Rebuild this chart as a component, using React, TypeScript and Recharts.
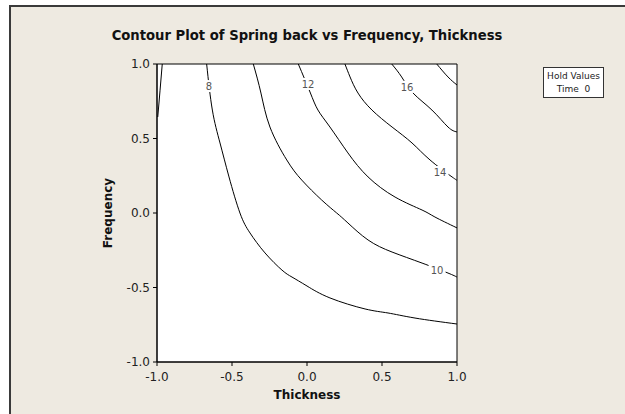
import { ComposedChart, XAxis, YAxis, Line, Scatter, ReferenceArea, CartesianGrid } from 'recharts';

const axisTicks = [-1, -0.5, 0, 0.5, 1];

// contour lines (Thickness = x, Frequency = y)
const level6 = [
  { x: -0.995, y: 0.644 },
  { x: -0.98, y: 0.82 },
  { x: -0.965, y: 1.0 },
];
const level8 = [
  { x: -0.669, y: 1.0 },
  { x: -0.631, y: 0.691 },
  { x: -0.58, y: 0.47 },
  { x: -0.52, y: 0.242 },
  { x: -0.447, y: 0.0 },
  { x: -0.38, y: -0.134 },
  { x: -0.28, y: -0.268 },
  { x: -0.167, y: -0.383 },
  { x: -0.1, y: -0.43 },
  { x: 0.0, y: -0.49 },
  { x: 0.153, y: -0.57 },
  { x: 0.387, y: -0.644 },
  { x: 0.54, y: -0.671 },
  { x: 0.72, y: -0.705 },
  { x: 1.0, y: -0.745 },
];
const level10 = [
  { x: -0.358, y: 1.0 },
  { x: -0.307, y: 0.805 },
  { x: -0.247, y: 0.577 },
  { x: -0.135, y: 0.356 },
  { x: -0.035, y: 0.221 },
  { x: 0.098, y: 0.087 },
  { x: 0.198, y: 0.0 },
  { x: 0.273, y: -0.067 },
  { x: 0.407, y: -0.181 },
  { x: 0.567, y: -0.262 },
  { x: 0.767, y: -0.336 },
  { x: 0.94, y: -0.403 },
  { x: 1.0, y: -0.43 },
];
const level12 = [
  { x: -0.058, y: 1.0 },
  { x: 0.02, y: 0.812 },
  { x: 0.073, y: 0.691 },
  { x: 0.153, y: 0.577 },
  { x: 0.273, y: 0.403 },
  { x: 0.407, y: 0.242 },
  { x: 0.587, y: 0.107 },
  { x: 0.767, y: 0.02 },
  { x: 0.853, y: -0.027 },
  { x: 1.0, y: -0.1 },
];
const level14 = [
  { x: 0.253, y: 1.0 },
  { x: 0.287, y: 0.913 },
  { x: 0.34, y: 0.805 },
  { x: 0.433, y: 0.691 },
  { x: 0.567, y: 0.577 },
  { x: 0.7, y: 0.47 },
  { x: 0.82, y: 0.356 },
  { x: 0.967, y: 0.242 },
  { x: 1.0, y: 0.221 },
];
const level16 = [
  { x: 0.565, y: 1.0 },
  { x: 0.631, y: 0.913 },
  { x: 0.707, y: 0.805 },
  { x: 0.833, y: 0.691 },
  { x: 0.94, y: 0.577 },
  { x: 1.0, y: 0.544 },
];
const level18 = [
  { x: 0.865, y: 1.0 },
  { x: 0.94, y: 0.913 },
  { x: 1.0, y: 0.859 },
];

const contourLabels = [
  { x: -0.653, y: 0.852, text: '8' },
  { x: 0.007, y: 0.866, text: '12' },
  { x: 0.667, y: 0.846, text: '16' },
  { x: 0.887, y: 0.275, text: '14' },
  { x: 0.867, y: -0.383, text: '10' },
];

const contours = [level6, level8, level10, level12, level14, level16, level18];

const FONT = '"DejaVu Sans", sans-serif';

function LevelLabel(props: any) {
  const { cx, cy, payload } = props;
  const w = payload.text.length * 6.5 + 4;
  return (
    <g>
      <rect x={cx - w / 2} y={cy - 6} width={w} height={12} fill="#fff" />
      <text
        x={cx}
        y={cy}
        dy="0.36em"
        textAnchor="middle"
        fontSize={10}
        fontFamily={FONT}
        fill="#555"
      >
        {payload.text}
      </text>
    </g>
  );
}

function FreqLabel({ viewBox }: any) {
  const cx = viewBox.x + 11;
  const cy = viewBox.y + viewBox.height / 2;
  return (
    <text
      x={cx}
      y={cy}
      transform={`rotate(-90, ${cx}, ${cy})`}
      textAnchor="middle"
      dominantBaseline="central"
      fontSize={12}
      fontWeight="bold"
      fontFamily={FONT}
      fill="#111"
    >
      Frequency
    </text>
  );
}

function ThickLabel({ viewBox }: any) {
  return (
    <text
      x={viewBox.x + viewBox.width / 2}
      y={viewBox.y + 37}
      textAnchor="middle"
      fontSize={12}
      fontWeight="bold"
      fontFamily={FONT}
      fill="#111"
    >
      Thickness
    </text>
  );
}

export default function App() {
  const tickStyle = { fill: '#222', fontSize: 12, fontFamily: FONT };
  return (
    <div style={{ position: 'absolute', left: 0, top: 0, width: 625, height: 414, background: '#fff', overflow: 'hidden' }}>
      <div
        style={{
          position: 'absolute',
          left: 9,
          top: 5,
          width: 616,
          height: 409,
          boxSizing: 'border-box',
          background: '#EEEAE1',
          borderTop: '2px solid #3a3a3a',
          borderLeft: '2px solid #3a3a3a',
        }}
      />
      <div
        style={{
          position: 'absolute',
          left: 0,
          top: 28,
          width: 614,
          textAlign: 'center',
          fontFamily: FONT,
          fontWeight: 'bold',
          fontSize: 13.2,
          color: '#111',
        }}
      >
        Contour Plot of Spring back vs Frequency, Thickness
      </div>
      <div
        style={{
          position: 'absolute',
          left: 543,
          top: 67,
          width: 61,
          height: 31,
          boxSizing: 'border-box',
          border: '1px solid #333',
          background: '#fff',
          fontFamily: FONT,
          fontSize: 9,
          color: '#222',
          textAlign: 'center',
          lineHeight: '13px',
          paddingTop: 2,
        }}
      >
        <div>Hold Values</div>
        <div>Time&nbsp;&nbsp;0</div>
      </div>
      <div style={{ position: 'absolute', left: 0, top: 0 }}>
        <ComposedChart width={625} height={414} margin={{ top: 64, right: 168, bottom: 12, left: 97 }}>
          <CartesianGrid fill="#fff" horizontal={false} vertical={false} />
          <XAxis
            type="number"
            dataKey="x"
            domain={[-1, 1]}
            ticks={axisTicks}
            tickFormatter={(v: number) => v.toFixed(1)}
            tick={tickStyle}
            tickSize={4}
            tickMargin={6}
            height={40}
            stroke="#000"
            allowDataOverflow
            label={{ content: ThickLabel }}
          />
          <YAxis
            type="number"
            dataKey="y"
            domain={[-1, 1]}
            ticks={axisTicks}
            tickFormatter={(v: number) => v.toFixed(1)}
            tick={tickStyle}
            tickSize={4}
            tickMargin={3}
            width={60}
            stroke="#000"
            allowDataOverflow
            label={{ content: FreqLabel }}
          />
          {contours.map((c, i) => (
            <Line
              key={i}
              data={c}
              dataKey="y"
              type="natural"
              stroke="#000"
              strokeWidth={1}
              dot={false}
              activeDot={false}
              isAnimationActive={false}
            />
          ))}
          <Scatter data={contourLabels} shape={LevelLabel} isAnimationActive={false} />
          <ReferenceArea x1={-1} x2={1} y1={-1} y2={1} fill="none" stroke="#000" strokeWidth={1} ifOverflow="visible" />
        </ComposedChart>
      </div>
    </div>
  );
}
